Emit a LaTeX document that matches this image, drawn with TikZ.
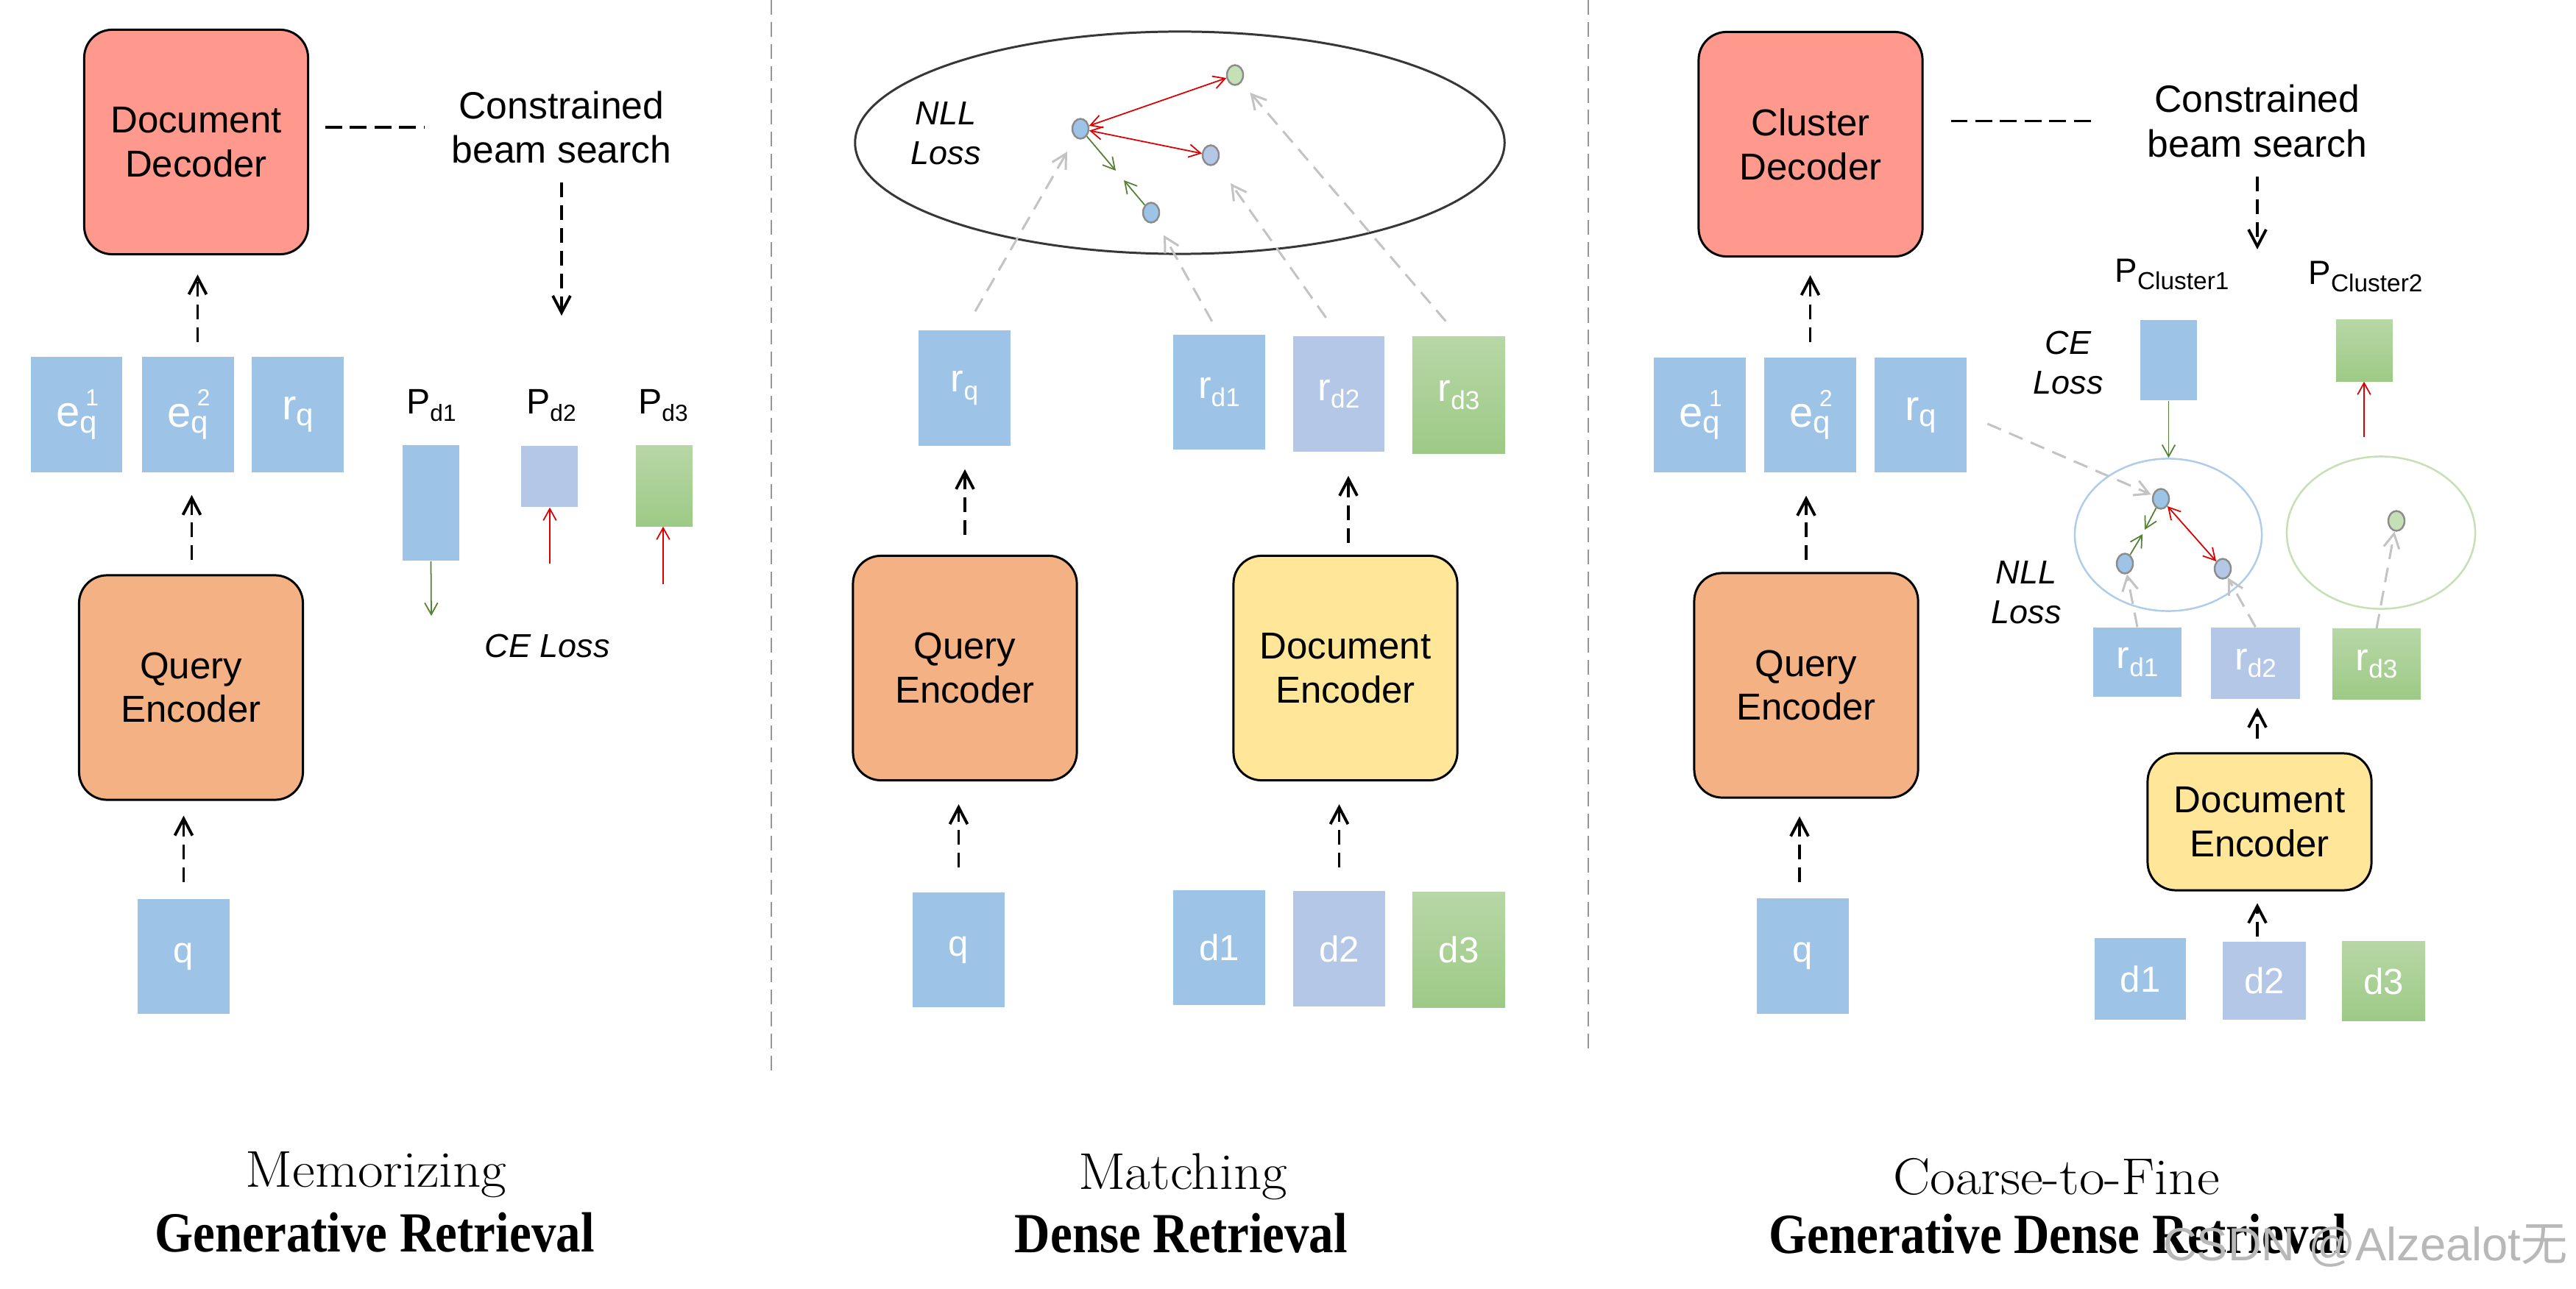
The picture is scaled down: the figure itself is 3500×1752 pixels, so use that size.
\documentclass[tikz,border=0pt]{standalone}
\usepackage{fontspec}
\usepackage{graphicx}
\newfontfamily\hv{Liberation Sans}
\newfontfamily\ttlserif{Liberation Serif}
\newfontfamily\cjk{Noto Sans CJK SC}
\usetikzlibrary{arrows.meta,shapes.geometric,calc}
\definecolor{decfill}{RGB}{255,153,141}
\definecolor{qencfill}{RGB}{244,177,131}
\definecolor{dencfill}{RGB}{255,230,153}
\definecolor{bblue}{RGB}{157,195,230}
\definecolor{blav}{RGB}{180,199,231}
\definecolor{gtop}{RGB}{183,215,166}
\definecolor{gbot}{RGB}{157,202,134}
\definecolor{gdot}{RGB}{197,224,180}
\definecolor{arrred}{RGB}{222,0,0}
\definecolor{arrgreen}{RGB}{84,130,53}
\definecolor{dgray}{RGB}{195,195,195}
\definecolor{sepgray}{RGB}{150,150,150}
\definecolor{cblue}{RGB}{175,205,235}
\definecolor{cgreen}{RGB}{197,224,180}
\definecolor{ellgray}{RGB}{55,55,55}
\definecolor{dotgray}{RGB}{140,140,140}
\newcommand\myeq[1]{{\fontsize{16.5}{16.5}\selectfont e}\rlap{\hspace{2.3pt}\raisebox{8pt}{\fontsize{9}{9}\selectfont #1}}\raisebox{-2.4pt}{\fontsize{12}{12}\selectfont q}}
\newcommand\myr[4]{{\fontsize{#1}{#1}\selectfont r}\raisebox{#4}{\fontsize{#2}{#2}\selectfont #3}}
\newcommand\myp[4]{{\fontsize{#1}{#1}\selectfont P}\raisebox{-3pt}{\fontsize{#2}{#2}\selectfont #3}}
\begin{document}
\begin{tikzpicture}[x=0.01cm,y=-0.01cm,
  block/.style={draw=black, line width=0.85pt, rounded corners=0.38cm, minimum width=3.04cm, minimum height=3.05cm, align=center, inner sep=0pt, font=\hv\fontsize{14.5}{17}\selectfont},
  vec/.style={inner sep=0pt, text=white, font=\hv\fontsize{14}{14}\selectfont},
  sz/.style 2 args={minimum width=#1, minimum height=#2},
  bvec/.style={vec, fill=bblue},
  lvec/.style={vec, fill=blav},
  gvec/.style={vec, top color=gtop, bottom color=gbot},
  sdot/.style={ellipse, draw=dotgray, line width=0.7pt, minimum width=0.22cm, minimum height=0.27cm, inner sep=0pt},
  lbl/.style={align=center, inner sep=0pt, font=\hv\fontsize{14.7}{17.3}\selectfont},
  plbl/.style={inner sep=0pt, font=\hv},
  loss/.style={align=center, inner sep=0pt, font=\hv\itshape\fontsize{12.8}{15.5}\selectfont},
  darr/.style={black, line width=1.1pt, dash pattern=on 5.7pt off 3.1pt, -{Straight Barb[length=6.5pt,width=6.8pt]}},
  dline/.style={black, line width=1.1pt, dash pattern=on 6.5pt off 3pt},
  garr/.style={dgray, line width=0.85pt, dash pattern=on 5.7pt off 3.4pt, -{Straight Barb[length=5.5pt,width=6pt]}},
  redarr/.style={arrred, line width=0.5pt, -{Straight Barb[length=4.5pt,width=5pt]}},
  redboth/.style={arrred, line width=0.5pt, {Straight Barb[length=4.5pt,width=5pt]}-{Straight Barb[length=4.5pt,width=5pt]}},
  grnarr/.style={arrgreen, line width=0.5pt, -{Straight Barb[length=4.5pt,width=5pt]}},
  sepline/.style={sepgray, line width=0.8pt, dash pattern=on 5.7pt off 2.8pt},
  ttlA/.style={inner sep=0pt, font=\fontsize{20}{20}\selectfont},
  ttlB/.style={inner sep=0pt, font=\ttlserif\bfseries\fontsize{21.9}{21.9}\selectfont}
]
\fill[white] (0,0) rectangle (3500,1752);
\useasboundingbox (0,0) rectangle (3500,1752);

% separators
\draw[sepline] (1048,0) -- (1048,1461);
\draw[sepline] (2158,0) -- (2158,1432);

% ================= LEFT =================
\node[block, fill=decfill] (dec) at (266.5,193) {Document\\Decoder};
\node[lbl] (cbs1) at (763,173) {Constrained\\beam search};
\draw[dline] ($(dec.east |- cbs1.west)+(22,0)$) -- ($(cbs1.west)+(-36,0)$);
\coordinate (cbs1end) at (763,429);
\draw[darr, shorten <=0.25cm] (cbs1.south) -- (cbs1end);

\node[bvec, sz={1.24cm}{1.57cm}] (eq1) at (104,563.5) {\myeq{1}};
\node[bvec, sz={1.25cm}{1.57cm}] (eq2) at (255.5,563.5) {\myeq{2}};
\node[bvec, sz={1.25cm}{1.57cm}] (rq1) at (404.5,563.5) {\myr{16.5}{12}{q}{-2.4pt}};
\node[block, fill=qencfill] (qenc1) at (259.5,934.5) {Query\\Encoder};
\node[bvec, sz={1.25cm}{1.56cm}] (q1) at (249.5,1300) {q};

\draw[darr, shorten <=0.19cm, shorten >=0.26cm] ([xshift=0.13cm]eq2.north) -- ([xshift=0.13cm]eq2.north |- dec.south);
\draw[darr, shorten <=0.19cm, shorten >=0.30cm] ([xshift=0.01cm]qenc1.north) -- ([xshift=0.01cm]qenc1.north |- eq2.south);
\draw[darr, shorten <=0.22cm, shorten >=0.20cm] (q1.north) -- (q1.north |- qenc1.south);

\node[plbl] (pd1) at (586,551) {\myp{13.7}{9}{d1}{}};
\node[plbl] (pd2) at (749,551) {\myp{13.7}{9}{d2}{}};
\node[plbl] (pd3) at (901,551) {\myp{13.7}{9}{d3}{}};
\node[bvec, sz={0.77cm}{1.57cm}] (bar1) at (585.5,683.5) {};
\node[lvec, sz={0.77cm}{0.83cm}] (bar2) at (746.5,647.5) {};
\node[gvec, sz={0.77cm}{1.09cm}] (bar3) at (902.5,660.5) {};
\coordinate (g1end) at (586,837);
\draw[grnarr] (bar1.south) -- (g1end);
\coordinate (r1s) at (747,766);
\draw[redarr] (r1s) -- (r1s |- bar2.south);
\coordinate (r2s) at (901,794);
\draw[redarr] (r2s) -- (r2s |- bar3.south);
\node[loss] (ce1) at (744,878) {CE Loss};

\node[ttlA] (t1a) at (511,1597) {\scalebox{1.07}[1]{Memorizing}};
\node[ttlB] (t1b) at (509,1675) {\scalebox{0.87}[1]{Generative Retrieval}};

% ================= MIDDLE =================
\node[ellipse, draw=ellgray, line width=0.85pt, minimum width=8.82cm, minimum height=3.02cm, inner sep=0pt] (space) at (1603,194) {};
\node[loss] (nll2) at (1285,181) {NLL\\Loss};
\node[sdot, fill=bblue] (ma) at (1468,175) {};
\node[sdot, fill=gdot] (mg) at (1678,102) {};
\node[sdot, fill=blav] (ml) at (1645,211) {};
\node[sdot, fill=bblue] (mb) at (1564,289) {};
\draw[redboth] (ma) -- (mg);
\draw[redboth] (ma) -- (ml);
\coordinate (mga) at (1516,232);
\coordinate (mgb) at (1527,245);
\draw[grnarr] (ma) -- (mga);
\draw[grnarr] (mb) -- (mgb);

\node[bvec, sz={1.25cm}{1.57cm}] (rq2) at (1310.5,527.5) {\myr{15}{10}{q}{-3pt}};
\node[bvec, sz={1.25cm}{1.56cm}] (rd1) at (1656.5,533) {\myr{15}{10}{d1}{-3pt}};
\node[lvec, sz={1.24cm}{1.57cm}] (rd2) at (1819,535.5) {\myr{15}{10}{d2}{-3pt}};
\node[gvec, sz={1.26cm}{1.58cm}] (rd3) at (1982,537) {\myr{15}{10}{d3}{-3pt}};

\draw[garr, shorten <=0.29cm, shorten >=0.22cm] (rq2.north) -- (ma);
\draw[garr, shorten <=0.20cm, shorten >=0.21cm] (rd1.north) -- (mb);
\draw[garr, shorten <=0.30cm, shorten >=0.33cm] (rd2.north) -- (ml);
\draw[garr, shorten <=0.27cm, shorten >=0.18cm] (rd3.north) -- (mg);

\node[block, fill=qencfill] (qenc2) at (1311,908) {Query\\Encoder};
\node[block, fill=dencfill] (denc2) at (1828,908) {Document\\Encoder};
\node[bvec, sz={1.25cm}{1.56cm}] (q2) at (1302.5,1291) {q};
\node[bvec, sz={1.25cm}{1.56cm}] (d1) at (1656.5,1288) {d1};
\node[lvec, sz={1.25cm}{1.57cm}] (d2) at (1819.5,1289.5) {d2};
\node[gvec, sz={1.26cm}{1.56cm}] (d3) at (1982,1291) {d3};

\draw[darr, shorten <=0.27cm, shorten >=0.31cm] (qenc2.north) -- (qenc2.north |- rq2.south);
\draw[darr, shorten <=0.16cm, shorten >=0.32cm] ([xshift=0.04cm]denc2.north) -- ([xshift=0.04cm]denc2.north |- rd2.south);
\draw[darr, shorten <=0.33cm, shorten >=0.31cm] (q2.north) -- (q2.north |- qenc2.south);
\draw[darr, shorten <=0.31cm, shorten >=0.31cm] (d2.north) -- (d2.north |- denc2.south);

\node[ttlA] (t2a) at (1607,1599) {\scalebox{1.07}[1]{Matching}};
\node[ttlB] (t2b) at (1605,1676) {\scalebox{0.87}[1]{Dense Retrieval}};

% ================= RIGHT =================
\node[block, fill=decfill] (cdec) at (2460,196) {Cluster\\Decoder};
\node[lbl] (cbs2) at (3067,164.5) {Constrained\\beam search};
\draw[dline] ($(cdec.east |- cbs2.west)+(37,0)$) -- ($(cbs2.west)+(-72,0)$);
\coordinate (cbs2end) at (3067,339);
\draw[darr, shorten <=0.25cm] (cbs2.south) -- (cbs2end);

\node[bvec, sz={1.25cm}{1.56cm}] (eq1r) at (2309.5,564) {\myeq{1}};
\node[bvec, sz={1.25cm}{1.56cm}] (eq2r) at (2459.5,564) {\myeq{2}};
\node[bvec, sz={1.25cm}{1.56cm}] (rqr) at (2609.5,564) {\myr{16.5}{12}{q}{-2.4pt}};
\node[block, fill=qencfill] (qenc3) at (2454,931.5) {Query\\Encoder};
\node[bvec, sz={1.25cm}{1.57cm}] (q3) at (2449.5,1299.5) {q};

\draw[darr, shorten <=0.20cm, shorten >=0.24cm] (eq2r.north) -- (eq2r.north |- cdec.south);
\draw[darr, shorten <=0.16cm, shorten >=0.31cm] (qenc3.north) -- (qenc3.north |- eq2r.south);
\draw[darr, shorten <=0.21cm, shorten >=0.24cm] ([xshift=-0.045cm]q3.north) -- ([xshift=-0.045cm]q3.north |- qenc3.south);

\node[plbl] (pc1) at (2951,373) {\myp{13}{9.5}{Cluster1}{}};
\node[plbl] (pc2) at (3214,376) {\myp{13}{9.5}{Cluster2}{}};
\node[bvec, sz={0.77cm}{1.09cm}] (pc1bar) at (2946.5,489.5) {};
\node[gvec, sz={0.77cm}{0.83cm}] (pc2bar) at (3212.5,476.5) {};
\node[loss] (ce3) at (2810,493) {CE\\Loss};

\node[ellipse, draw=cblue, line width=0.7pt, minimum width=2.54cm, minimum height=2.07cm, inner sep=0pt] (cb) at (2946,727) {};
\node[ellipse, draw=cgreen, line width=0.7pt, minimum width=2.56cm, minimum height=2.07cm, inner sep=0pt] (cg) at (3235,724) {};

\draw[grnarr] (pc1bar.south) -- (pc1bar.south |- cb.north);
\coordinate (rcs) at (3212,594);
\draw[redarr] (rcs) -- (rcs |- pc2bar.south);

\node[sdot, fill=bblue] (rt) at (2936,678) {};
\node[sdot, fill=bblue] (rl) at (2887,766) {};
\node[sdot, fill=blav] (rv) at (3020,773) {};
\node[sdot, fill=gdot] (rg) at (3256,708) {};
\draw[redboth] (rt) -- (rv);
\coordinate (rga) at (2914,720);
\coordinate (rgb) at (2911,726);
\draw[grnarr] (rt) -- (rga);
\draw[grnarr] (rl) -- (rgb);

\node[loss] (nll3) at (2753,805) {NLL\\Loss};

\node[bvec, sz={1.20cm}{0.94cm}] (rd1r) at (2904,900) {\myr{15}{10}{d1}{-3pt}};
\node[lvec, sz={1.21cm}{0.97cm}] (rd2r) at (3064.5,901.5) {\myr{15}{10}{d2}{-3pt}};
\node[gvec, sz={1.20cm}{0.95cm}] (rd3r) at (3229,902.5) {\myr{15}{10}{d3}{-3pt}};

\draw[garr, shorten <=0.30cm, shorten >=0.02cm] (rqr.east) -- (rt);
\draw[garr] (rd1r.north) -- (rl);
\draw[garr] (rd2r.north) -- (rv);
\draw[garr] (rd3r.north) -- (rg);

\node[block, fill=dencfill, minimum height=1.86cm] (denc3) at (3070,1117) {Document\\Encoder};
\node[bvec, sz={1.24cm}{1.11cm}] (d1r) at (2908,1330.5) {d1};
\node[lvec, sz={1.13cm}{1.06cm}] (d2r) at (3076.5,1333) {d2};
\node[gvec, sz={1.13cm}{1.07cm}] (d3r) at (3238.5,1333.5) {d3};

\draw[darr, shorten <=0.18cm, shorten >=0.11cm] ([xshift=-0.03cm]denc3.north) -- ([xshift=-0.03cm]denc3.north |- rd2r.south);
\draw[darr, shorten <=0.06cm, shorten >=0.16cm] ([xshift=-0.03cm]denc3.south |- d2r.north) -- ([xshift=-0.03cm]denc3.south);

\node[ttlA] (t3a) at (2794,1599) {\scalebox{1.07}[1]{Coarse-to-Fine}};
\node[ttlB] (t3b) at (2796,1677) {\scalebox{0.87}[1]{Generative Dense Retrieval}};

% watermark
\node[inner sep=0pt, text=black!28, font=\hv\fontsize{18}{18}\selectfont] (wm) at (3214,1693) {CSDN @Alzealot{\cjk 无}};
\end{tikzpicture}
\end{document}
